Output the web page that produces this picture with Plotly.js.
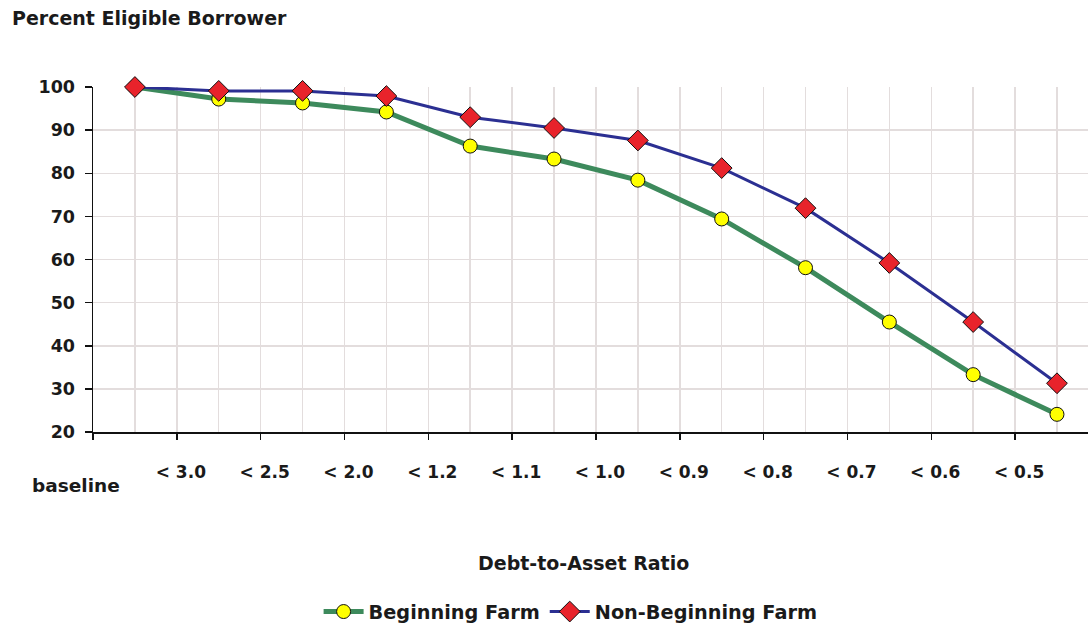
<!DOCTYPE html>
<html>
<head>
<meta charset="utf-8">
<script src="https://cdn.plot.ly/plotly-3.0.1.min.js"></script>
<style>html,body{margin:0;padding:0;background:#fff;}#chart{width:1088px;height:625px;}</style>
</head>
<body>
<div id="chart"></div>
<script>
var categories = ["baseline", "< 3.0", "< 2.5", "< 2.0", "< 1.2", "< 1.1", "< 1.0", "< 0.9", "< 0.8", "< 0.7", "< 0.6", "< 0.5"];
var beginningFarm = [100, 97.2, 96.3, 94.2, 86.3, 83.3, 78.4, 69.4, 58.1, 45.5, 33.3, 24.1];
var nonBeginningFarm = [100, 99.1, 99.1, 97.9, 93.0, 90.5, 87.6, 81.2, 71.9, 59.2, 45.5, 31.3];
var yTicks = [20, 30, 40, 50, 60, 70, 80, 90, 100];

var idx = categories.map(function(c, i){ return i; });
var FONT = "DejaVu Sans";
var TXT = "#1a1a1a";

// category boundaries carry the labels (labels of categories 1..n sit on the boundary before them)
var boundVals = [-0.5];
var boundText = [""];
for (var i = 1; i < categories.length; i++) { boundVals.push(i - 0.5); boundText.push(categories[i]); }

var traces = [
  {
    x: idx, y: beginningFarm, name: "Beginning Farm", type: "scatter", mode: "lines+markers",
    line: {color: "#3d8a5c", width: 5},
    marker: {symbol: "circle", size: 14, color: "#ffff00", line: {color: "#111", width: 1}},
    cliponaxis: false
  },
  {
    x: idx, y: nonBeginningFarm, name: "Non-Beginning Farm", type: "scatter", mode: "lines+markers",
    line: {color: "#2b2f92", width: 3},
    marker: {symbol: "diamond", size: 16, color: "#e8232b", line: {color: "#111", width: 1}},
    cliponaxis: false
  }
];

var layout = {
  width: 1088, height: 625,
  margin: {l: 93, r: 0, t: 87, b: 193, autoexpand: false},
  paper_bgcolor: "#fff", plot_bgcolor: "#fff",
  font: {family: FONT, color: TXT, size: 17},
  showlegend: true,
  legend: {
    orientation: "h", x: 0.48, xanchor: "center", y: (432 - 612) / 345, yanchor: "middle",
    font: {family: FONT, size: 19.3, color: TXT, weight: "bold"},
    itemwidth: 40, tracegroupgap: 0
  },
  xaxis: {
    range: [-0.5, 11.37],
    tickmode: "array", tickvals: boundVals, ticktext: boundText,
    ticks: "outside", ticklen: 6, tickwidth: 1.5, tickcolor: "#111",
    ticklabelstandoff: 18, ticklabelshift: 4,
    tickfont: {family: FONT, size: 17, color: TXT, weight: "bold"},
    showgrid: true, gridcolor: "#e3dddd", gridwidth: 1.5,
    minor: {tickmode: "array", tickvals: idx, showgrid: true, gridcolor: "#e3dddd", gridwidth: 1.5, ticks: ""},
    showline: true, linecolor: "#111", linewidth: 1.5,
    zeroline: false, fixedrange: true
  },
  yaxis: {
    range: [20, 100],
    tickmode: "array", tickvals: yTicks,
    ticks: "outside", ticklen: 7, tickwidth: 1.5, tickcolor: "#111",
    ticklabelstandoff: 6,
    tickfont: {family: FONT, size: 17.5, color: TXT, weight: "bold"},
    showgrid: true, gridcolor: "#e3dddd", gridwidth: 1.5,
    showline: true, linecolor: "#111", linewidth: 1.5,
    zeroline: false, fixedrange: true
  },
  annotations: [
    {text: "Percent Eligible Borrower", xref: "paper", yref: "paper", x: -83/995, xanchor: "left",
     y: (432 - 18) / 345, yanchor: "middle", showarrow: false,
     font: {family: FONT, size: 19, color: TXT, weight: "bold"}},
    {text: "Debt-to-Asset Ratio", xref: "paper", yref: "paper", x: (583 - 93) / 995, xanchor: "center",
     y: (432 - 563) / 345, yanchor: "middle", showarrow: false,
     font: {family: FONT, size: 19, color: TXT, weight: "bold"}},
    {text: categories[0], xref: "paper", yref: "paper", x: (76 - 93) / 995, xanchor: "center",
     y: (432 - 485) / 345, yanchor: "middle", showarrow: false,
     font: {family: FONT, size: 18.5, color: TXT, weight: "bold"}}
  ]
};

Plotly.newPlot("chart", traces, layout, {displayModeBar: false, staticPlot: true});
</script>
</body>
</html>
